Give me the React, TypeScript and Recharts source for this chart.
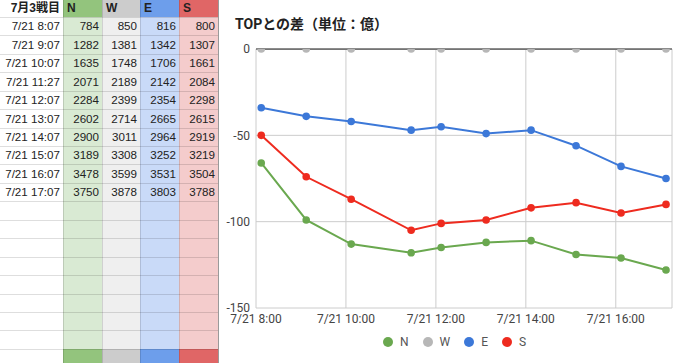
import React from "react";
import {
  LineChart,
  Line,
  XAxis,
  YAxis,
  CartesianGrid,
  Legend,
  ReferenceLine,
} from "recharts";

// raw sheet values (7月3戦目)
const times = ["8:07", "9:07", "10:07", "11:27", "12:07", "13:07", "14:07", "15:07", "16:07", "17:07"];
const nVals = [784, 1282, 1635, 2071, 2284, 2602, 2900, 3189, 3478, 3750];
const wVals = [850, 1381, 1748, 2189, 2399, 2714, 3011, 3308, 3599, 3878];
const eVals = [816, 1342, 1706, 2142, 2354, 2665, 2964, 3252, 3531, 3803];
const sVals = [800, 1307, 1661, 2084, 2298, 2615, 2919, 3219, 3504, 3788];

const teams = ["N", "W", "E", "S"];
const xTicks = [8, 10, 12, 14, 16];
const yTicks = [0, -50, -100, -150];

const headColors = ["#93c47d", "#cccccc", "#6d9eeb", "#e06666"];
const bodyColors = ["#d9ead3", "#efefef", "#c9daf8", "#f4cccc"];
const lineColors = ["#6aa84f", "#b7b7b7", "#3c78d8", "#ee2b1f"];

const cols = [nVals, wVals, eVals, sVals];

// chart data: gap to the top team at each time
const chartData = times.map((t, i) => {
  const [h, m] = t.split(":").map(Number);
  const top = Math.max(nVals[i], wVals[i], eVals[i], sVals[i]);
  return {
    x: h + m / 60,
    N: nVals[i] - top,
    W: wVals[i] - top,
    E: eVals[i] - top,
    S: sVals[i] - top,
  };
});

const colEdges = [0, 63, 102, 140, 179, 218];
const headH = 17.3;
const rowH = 18.45;
const rowCount = 18;
const tableFont = "'Liberation Sans', Arial, sans-serif";
const cellFont = 11.6;

function Sheet() {
  const cells: React.ReactNode[] = [];
  // column backgrounds
  for (let c = 0; c < 4; c++) {
    const left = colEdges[c + 1];
    const width = colEdges[c + 2] - left;
    cells.push(
      <div key={"bg" + c} style={{ position: "absolute", left, width, top: 0, height: 363, background: bodyColors[c] }} />
    );
    cells.push(
      <div key={"hd" + c} style={{ position: "absolute", left, width, top: 0, height: headH, background: headColors[c] }} />
    );
    cells.push(
      <div key={"ft" + c} style={{ position: "absolute", left, width, top: headH + rowCount * rowH, height: 30, background: headColors[c] }} />
    );
  }
  // horizontal grid lines
  for (let r = 0; r <= rowCount; r++) {
    cells.push(
      <div key={"h" + r} style={{ position: "absolute", left: 0, width: 218, top: headH + r * rowH - 0.5, height: 1, background: "rgba(0,0,0,0.13)" }} />
    );
  }
  // vertical grid lines
  for (let c = 1; c < colEdges.length; c++) {
    cells.push(
      <div key={"v" + c} style={{ position: "absolute", left: colEdges[c] - 0.5, width: 1, top: 0, height: 363, background: c === 5 ? "#9a9a9a" : "rgba(0,0,0,0.13)" }} />
    );
  }
  // header text
  cells.push(
    <div key="t0" style={{ position: "absolute", left: 0, width: 60, top: 0, height: headH, lineHeight: headH + "px", textAlign: "right", fontWeight: "bold", fontSize: 12, fontFamily: "'Liberation Sans', 'Noto Sans CJK JP', sans-serif", color: "#222" }}>
      7月3戦目
    </div>
  );
  teams.forEach((t, c) => {
    cells.push(
      <div key={"th" + c} style={{ position: "absolute", left: colEdges[c + 1] + 4, top: 0, height: headH, lineHeight: headH + "px", fontWeight: "bold", fontSize: 12, fontFamily: tableFont, color: "#222" }}>
        {t}
      </div>
    );
  });
  // body rows
  times.forEach((t, r) => {
    const top = headH + r * rowH;
    cells.push(
      <div key={"l" + r} style={{ position: "absolute", left: 0, width: 60, top, height: rowH, lineHeight: rowH + "px", textAlign: "right", fontSize: cellFont, fontFamily: tableFont, color: "#222" }}>
        {"7/21 " + t}
      </div>
    );
    cols.forEach((vals, c) => {
      cells.push(
        <div key={"c" + r + "_" + c} style={{ position: "absolute", left: colEdges[c + 1], width: colEdges[c + 2] - colEdges[c + 1] - 3, top, height: rowH, lineHeight: rowH + "px", textAlign: "right", fontSize: cellFont, fontFamily: tableFont, color: "#222" }}>
          {vals[r]}
        </div>
      );
    });
  });
  return <div style={{ position: "absolute", left: 0, top: 0, width: 220, height: 363 }}>{cells}</div>;
}

function LegendContent() {
  return (
    <div style={{ display: "flex", alignItems: "center", height: 20, paddingLeft: 163, fontFamily: "Roboto, sans-serif", fontSize: 12, color: "#555" }}>
      {teams.map((t, i) => (
        <span key={t} style={{ display: "inline-flex", alignItems: "center", marginRight: 14 }}>
          <span style={{ width: 10, height: 10, borderRadius: 5, background: lineColors[i], marginRight: 7, display: "inline-block" }} />
          {t}
        </span>
      ))}
    </div>
  );
}

export default function App() {
  return (
    <div style={{ position: "fixed", left: 0, top: 0, width: 680, height: 363, overflow: "hidden", background: "#fff" }}>
      <Sheet />
      <div style={{ position: "absolute", left: 220, top: 0, width: 460, height: 363 }}>
        <div style={{ position: "absolute", left: 15, top: 16, lineHeight: "16px", fontSize: 14, fontWeight: "bold", fontFamily: "Roboto, 'Noto Sans CJK JP', sans-serif", color: "#222", zIndex: 1 }}>
          TOPとの差（単位：億）
        </div>
        <LineChart width={460} height={363} data={chartData} margin={{ top: 49, right: 8, left: 0, bottom: 11 }}>
          <CartesianGrid stroke="#cccccc" strokeDasharray="" />
          <XAxis
            dataKey="x"
            type="number"
            domain={[8, 17.25]}
            ticks={xTicks}
            tickFormatter={(v: number) => `7/21 ${v}:00`}
            axisLine={false}
            tickLine={false}
            tickMargin={0}
            height={24}
            tick={{ fill: "#444", fontSize: 12, fontFamily: "Roboto, sans-serif" }}
          />
          <YAxis
            type="number"
            domain={[-150, 0]}
            ticks={yTicks}
            allowDataOverflow
            axisLine={false}
            tickLine={false}
            tickMargin={0}
            width={36}
            tick={{ fill: "#444", fontSize: 12, fontFamily: "Roboto, sans-serif" }}
          />
          {teams.map((t, i) => (
            <Line
              key={t}
              dataKey={t}
              type="linear"
              stroke={lineColors[i]}
              strokeWidth={2}
              dot={{ r: 3.8, fill: lineColors[i], stroke: lineColors[i], strokeWidth: 0 }}
              activeDot={false}
              isAnimationActive={false}
            />
          ))}
          <ReferenceLine y={0} stroke="#333" strokeWidth={1.2} />
          <Legend verticalAlign="bottom" align="left" height={20} content={() => <LegendContent />} />
        </LineChart>
      </div>
    </div>
  );
}
